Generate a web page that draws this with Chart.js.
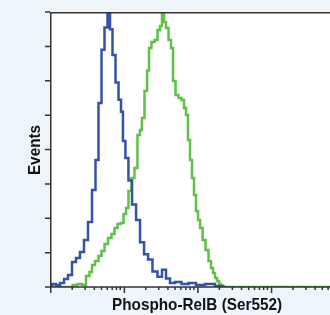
<!DOCTYPE html>
<html>
<head>
<meta charset="utf-8">
<script src="https://cdn.jsdelivr.net/npm/chart.js@4"></script>
<style>
  html, body { margin: 0; padding: 0; background: #eef6fc; }
  #wrap { width: 330px; height: 315px; position: relative; }
</style>
</head>
<body>
<div id="wrap"><canvas id="myChart"></canvas></div>
<script>
// intensity (log scale) and event counts
const blueX = [1, 1.13, 1.28, 1.46, 1.65, 1.87, 2.12, 2.40, 2.72, 3.08, 3.50, 3.96, 4.35, 4.78, 5.25, 5.77, 6.33, 6.74, 7.41, 8.14, 8.94, 9.51, 10.1, 11.1, 12.2, 13.9, 15.7, 17.8, 20.2, 22.8, 26.7, 31.2, 35.4, 40.1, 45.5, 54.8, 68.3, 85.0, 109, 149, 204, 246];
const blueY = [1.2, 1.7, 1.2, 2.3, 4.7, 7, 14.5, 16.9, 20.4, 27.3, 37.8, 56.4, 73.9, 107, 138, 151, 159, 150, 135, 119, 109, 102, 85, 75, 62, 48, 39, 26, 19, 16, 9, 6, 10, 5, 2.3, 2.9, 1.7, 2.3, 1.2, 1.7, 0.6, 0];

const greenX = [1, 1.87, 2.19, 2.56, 2.90, 3.28, 3.61, 3.84, 4.35, 4.78, 5.25, 5.77, 6.54, 7.18, 7.88, 8.66, 9.51, 10.5, 11.1, 12.2, 13.4, 14.7, 16.2, 17.2, 18.3, 20.2, 21.5, 22.8, 25.1, 27.6, 30.3, 32.2, 34.3, 36.5, 38.9, 42.7, 45.5, 48.4, 53.2, 58.4, 64.1, 68.3, 72.7, 77.4, 82.4, 87.7, 93.4, 99.4, 106, 113, 124, 136, 149, 159, 169, 180, 192, 204, 217, 231, 6370];
const greenY = [0, 0, 1.2, 1.7, 1.2, 6.4, 8.7, 12.8, 15.1, 18, 20.9, 25, 28.5, 30.8, 34.3, 36.7, 37.2, 42.5, 46, 55.9, 63.4, 69.2, 88.4, 91.3, 98.3, 114, 126, 139, 142.5, 143.7, 149.5, 151.8, 160, 154.2, 150.7, 143.7, 139, 119.8, 111.7, 110, 108.8, 104.1, 100.1, 85.5, 73.9, 63.4, 53.5, 44.2, 39, 34.3, 27.3, 21.5, 15.1, 11.1, 8.1, 5.2, 3.5, 1.7, 0.6, 0, 0];

const yTicks = [0, 20, 40, 60, 80, 100, 120, 140, 160];
const xMajor = [1, 10, 100, 1000];
const xMinor = [2, 3, 4, 5, 6, 7, 8, 9, 20, 30, 40, 50, 60, 70, 80, 90, 200, 300, 400, 500, 600, 700, 800, 900, 2000, 3000, 4000, 5000, 6000];

const xTitle = 'Phospho-RelB (Ser552)';
const yTitle = 'Events';

function toPoints(xs, ys) {
    return xs.map((x, i) => ({ x: x, y: ys[i] }));
}

// axes, ticks and titles drawn by hand from the scales
const frame = {
    id: 'frame',
    beforeDatasetsDraw(chart) {
        const { ctx, chartArea: a } = chart;
        ctx.save();
        ctx.fillStyle = '#ffffff';
        ctx.fillRect(a.left, a.top, a.right - a.left, a.bottom - a.top);
        ctx.restore();
    },
    afterDraw(chart) {
        const { ctx, chartArea: a } = chart;
        const xs = chart.scales.x;
        const ys = chart.scales.y;
        ctx.save();
        ctx.strokeStyle = '#333333';
        ctx.lineWidth = 1.5;
        ctx.beginPath();
        ctx.moveTo(a.left + 0.75, a.top + 0.75);
        ctx.lineTo(a.right, a.top + 0.75);
        ctx.moveTo(a.left + 0.75, a.top);
        ctx.lineTo(a.left + 0.75, a.bottom);
        ctx.lineTo(a.right, a.bottom);
        ctx.stroke();

        ctx.beginPath();
        yTicks.forEach((t) => {
            const y = ys.getPixelForValue(t);
            ctx.moveTo(a.left - 5, y);
            ctx.lineTo(a.left, y);
        });
        xMajor.forEach((t) => {
            const x = xs.getPixelForValue(t);
            ctx.moveTo(x + 0.75, a.bottom);
            ctx.lineTo(x + 0.75, a.bottom + 6);
        });
        xMinor.forEach((t) => {
            const x = xs.getPixelForValue(t);
            ctx.moveTo(x, a.bottom);
            ctx.lineTo(x, a.bottom + 3);
        });
        ctx.stroke();

        ctx.fillStyle = '#111111';
        ctx.font = 'bold 17px "Liberation Sans", Arial, sans-serif';
        ctx.textAlign = 'center';
        ctx.textBaseline = 'alphabetic';
        ctx.save();
        ctx.translate(197, 310);
        ctx.scale(0.9, 1);
        ctx.fillText(xTitle, 0, 0);
        ctx.restore();

        ctx.save();
        ctx.translate(40, 150);
        ctx.rotate(-Math.PI / 2);
        ctx.scale(0.9, 1);
        ctx.fillText(yTitle, 0, 0);
        ctx.restore();
        ctx.restore();
    }
};

const data = {
    datasets: [
        {
            label: 'control',
            data: toPoints(blueX, blueY),
            borderColor: 'rgb(52, 82, 168)',
            borderWidth: 2.5,
            pointRadius: 0,
            stepped: 'middle',
            fill: false
        },
        {
            label: 'treated',
            data: toPoints(greenX, greenY),
            borderColor: 'rgb(96, 192, 72)',
            borderWidth: 2.5,
            pointRadius: 0,
            stepped: 'middle',
            fill: false
        }
    ]
};

const config = {
    type: 'line',
    data: data,
    options: {
        responsive: true,
        maintainAspectRatio: false,
        animation: false,
        layout: { padding: { left: 50, top: 12, right: 0, bottom: 28 } },
        plugins: {
            legend: { display: false },
            tooltip: { enabled: false }
        },
        scales: {
            x: { type: 'logarithmic', min: 1, max: 6370, display: false },
            y: { type: 'linear', min: 0, max: 160, display: false }
        }
    },
    plugins: [frame]
};

new Chart(document.getElementById('myChart'), config);
</script>
</body>
</html>
